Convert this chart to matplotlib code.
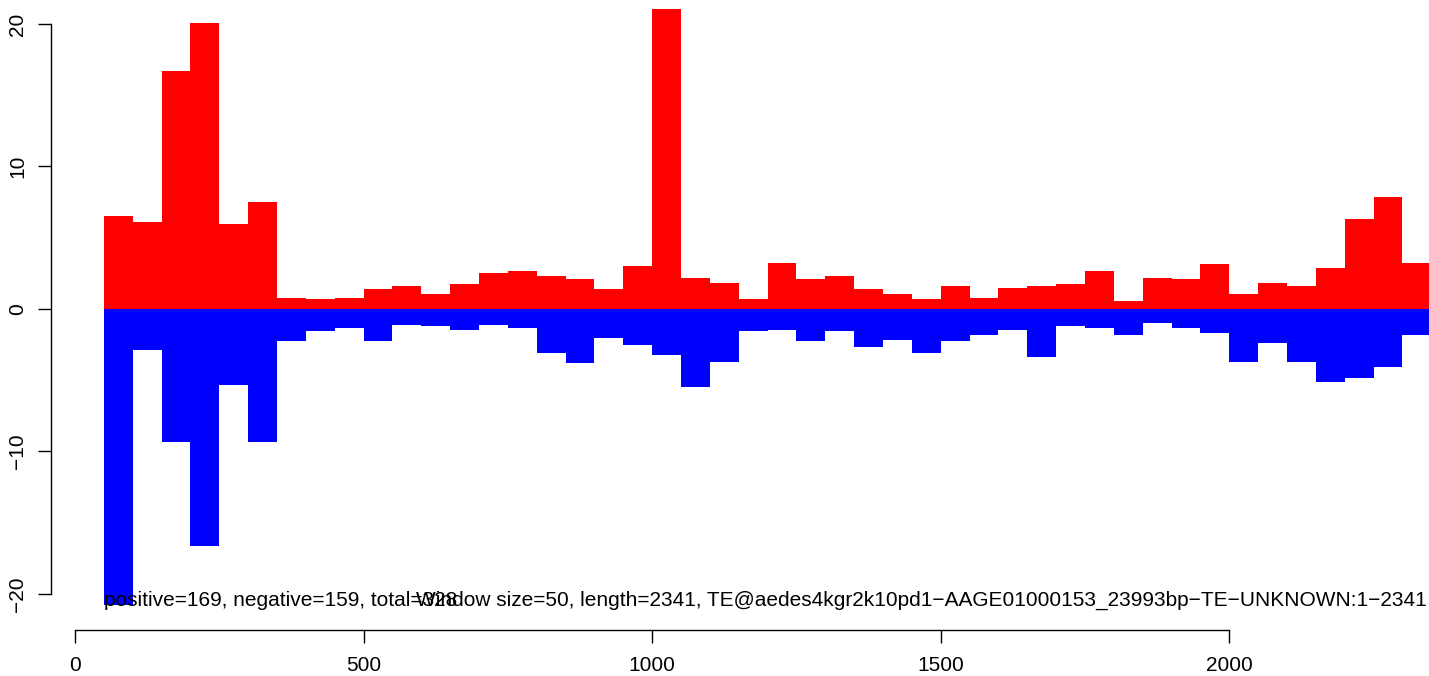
import matplotlib
matplotlib.use('Agg')
import matplotlib.pyplot as plt
import numpy as np

plt.rcParams['font.family'] = ['Liberation Sans', 'DejaVu Sans']

# Dados (janela de 50 pb)
window = 50
seq_length = 2341
positive = [6.53, 6.10, 16.70, 20.07, 5.96, 7.50, 0.77, 0.70, 0.77, 1.40,
            1.61, 1.05, 1.75, 2.53, 2.67, 2.32, 2.11, 1.40, 3.02, 21.05,
            2.18, 1.82, 0.70, 3.23, 2.11, 2.32, 1.40, 1.05, 0.70, 1.61,
            0.77, 1.47, 1.61, 1.75, 2.67, 0.56, 2.18, 2.11, 3.16, 1.05,
            1.82, 1.61, 2.88, 6.32, 7.86, 3.23]
negative = [-20.80, -2.88, -9.31, -16.60, -5.33, -9.31, -2.22, -1.52, -1.33, -2.22,
            -1.12, -1.19, -1.45, -1.12, -1.33, -3.07, -3.77, -2.04, -2.53, -3.23,
            -5.45, -3.72, -1.52, -1.45, -2.22, -1.52, -2.64, -2.15, -3.07, -2.22,
            -1.80, -1.45, -3.35, -1.17, -1.31, -1.80, -0.96, -1.31, -1.66, -3.70,
            -2.36, -3.70, -5.10, -4.82, -4.05, -1.80]
n_pos, n_neg = 169, 159
te_name = 'TE@aedes4kgr2k10pd1\u2212AAGE01000153_23993bp\u2212TE\u2212UNKNOWN:1\u22122341'

starts = window * (np.arange(len(positive)) + 1)

fig = plt.figure(figsize=(14.29, 6.76), dpi=100)
# eixo maior que a figura (como no original, cortado em cima e à direita)
ax = fig.add_axes([51 / 1429, 46 / 676, 1428 / 1429, 644.5 / 676])

ax.bar(starts, positive, width=window, align='edge', color='#ff0000', linewidth=0)
ax.bar(starts, negative, width=window, align='edge', color='#0000ff', linewidth=0)

ax.set_xlim(-41.64, 2432.64)
ax.set_ylim(-22.53, 22.70)

for s in ['top', 'right']:
    ax.spines[s].set_visible(False)
ax.spines['bottom'].set_bounds(0, 2000)
ax.spines['left'].set_bounds(-20, 20)
for s in ['bottom', 'left']:
    ax.spines[s].set_linewidth(1.0)

ax.set_xticks([0, 500, 1000, 1500, 2000])
ax.set_yticks([-20, -10, 0, 10, 20])
ax.set_yticklabels(['\u221220', '\u221210', '0', '10', '20'], rotation=90, va='center')
ax.tick_params(axis='both', direction='out', length=9.5, width=1.0, labelsize=15)
ax.tick_params(axis='x', pad=9)
ax.tick_params(axis='y', pad=7.5)

ax.text(window, -20.84, 'positive=%d, negative=%d, total=%d' % (n_pos, n_neg, n_pos + n_neg),
        ha='left', va='baseline', fontsize=15)
fig.text(1427 / 1429, 1 - 606 / 676,
         'Window size=%d, length=%d, %s' % (window, seq_length, te_name),
         ha='right', va='baseline', fontsize=15)

plt.savefig('out.png', dpi=100)
